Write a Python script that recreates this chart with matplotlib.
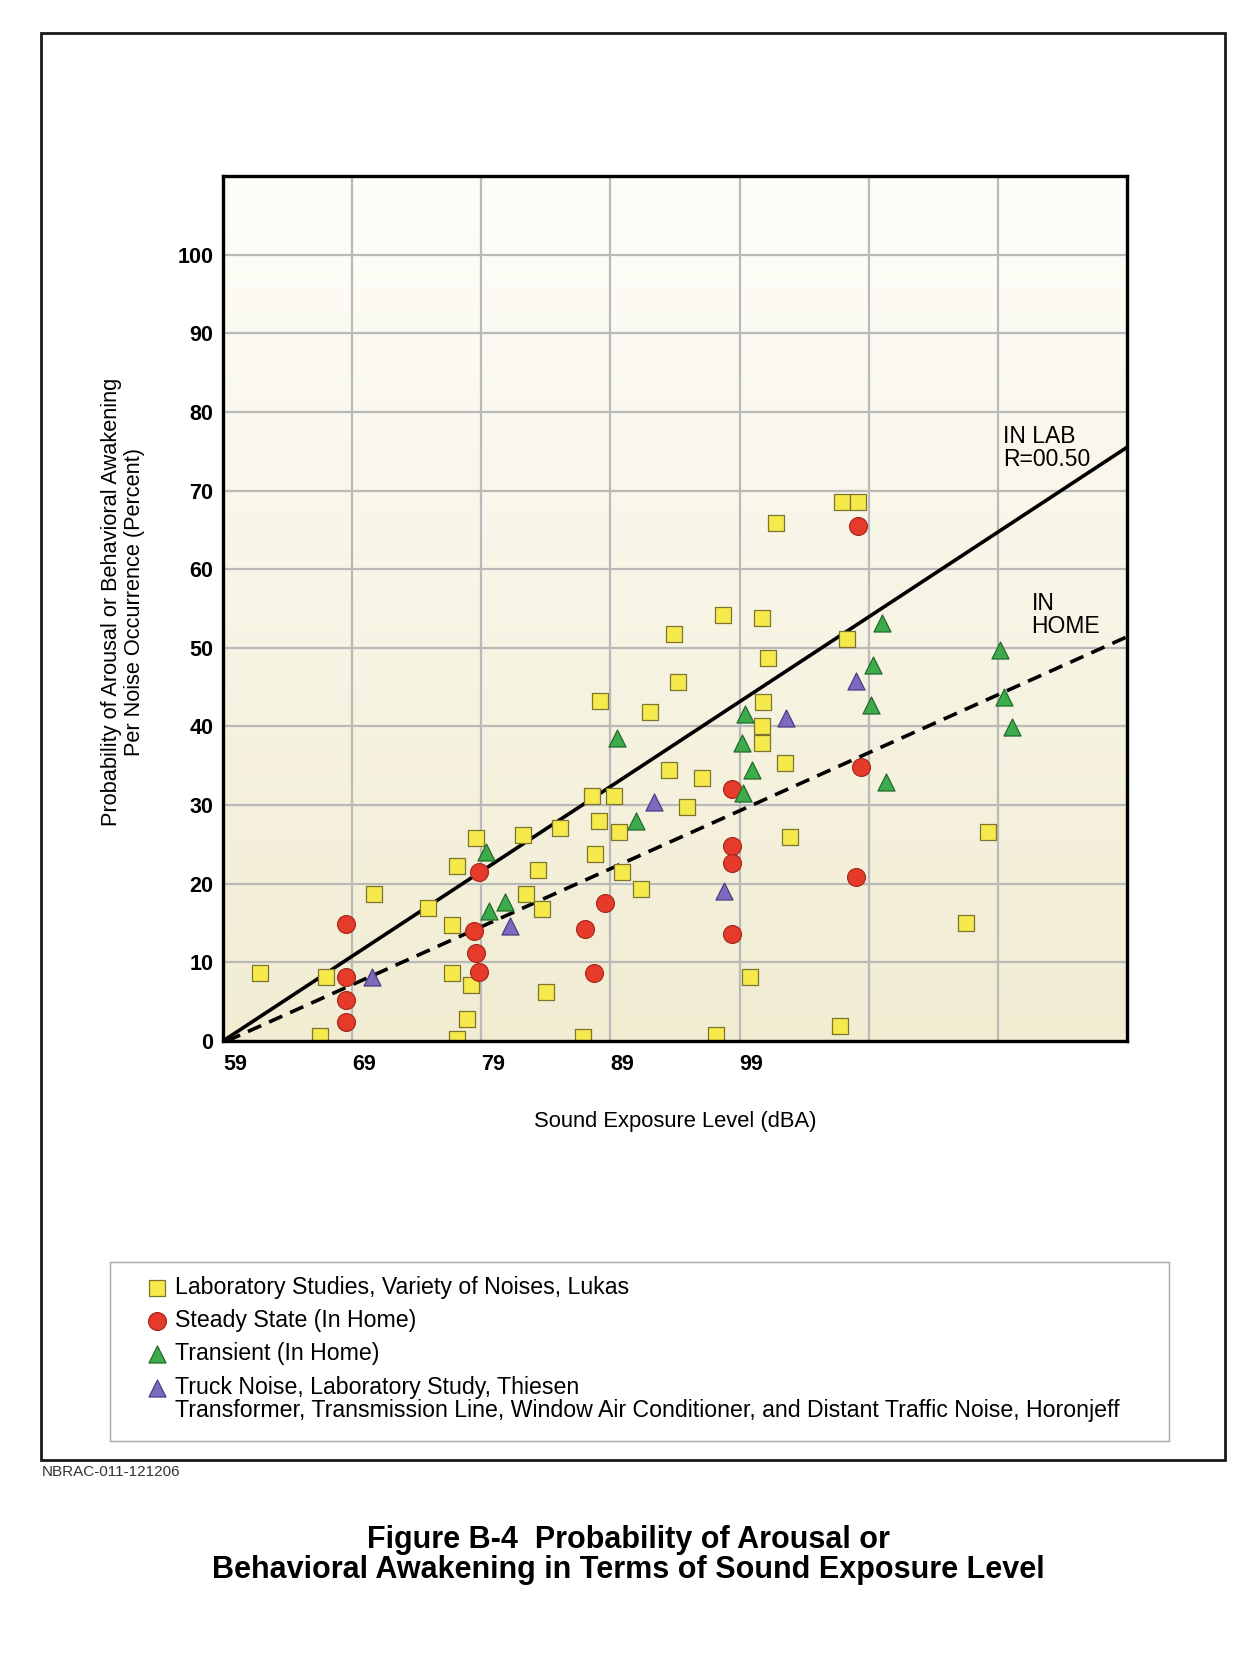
import numpy as np
import matplotlib.pyplot as plt
from matplotlib.patches import Rectangle
from matplotlib.colors import LinearSegmentedColormap

plt.rcParams['font.family'] = ['Liberation Sans', 'DejaVu Sans']

# Laboratory Studies, Variety of Noises, Lukas (yellow squares)
lab_x = [61.9, 67.0, 66.5, 70.7, 74.9, 76.7, 76.7, 77.1, 78.6, 78.2, 77.9, 77.1,
         82.2, 82.5, 83.4, 83.7, 84.0, 85.1, 86.9, 87.6, 87.8, 88.1, 88.2, 89.3,
         89.7, 89.9, 91.4, 92.1, 93.5, 93.9, 94.2, 94.9, 96.1, 97.2, 97.7, 99.8,
         100.7, 101.2, 100.8, 100.7, 100.7, 101.8, 102.5, 102.9, 106.8, 106.9,
         108.2, 107.3, 116.5, 118.2]
lab_y = [8.6, 8.2, 0.6, 18.7, 16.9, 14.7, 8.7, 22.3, 25.8, 7.1, 2.8, 0.3,
         26.2, 18.7, 21.7, 16.8, 6.2, 27.1, 0.5, 31.2, 23.8, 28.0, 43.3, 31.2,
         26.6, 21.5, 19.3, 41.8, 34.4, 51.7, 45.6, 29.7, 33.5, 0.8, 54.2, 8.2,
         53.8, 48.7, 43.1, 40.0, 37.9, 65.9, 35.3, 25.9, 1.9, 68.6,
         68.6, 51.1, 15.0, 26.6]

# Steady State (In Home) (red circles)
steady_x = [68.5, 68.5, 68.5, 68.5, 78.8, 78.4, 78.6, 78.8, 87.0, 87.7, 88.6,
            98.4, 98.4, 98.4, 98.4, 108.2, 108.4, 108.0]
steady_y = [14.9, 8.2, 5.2, 2.4, 21.5, 14.0, 11.2, 8.8, 14.2, 8.7, 17.5,
            32.0, 24.8, 22.6, 13.6, 65.5, 34.9, 20.8]

# Transient (In Home) (green triangles)
trans_x = [79.4, 79.6, 80.8, 89.5, 91.0, 99.4, 99.2, 100.0, 99.3, 110.0, 109.3,
           109.2, 110.3, 119.2, 119.5, 120.1]
trans_y = [24.0, 16.5, 17.7, 38.5, 28.0, 41.6, 37.9, 34.5, 31.6, 53.1, 47.8,
           42.7, 33.0, 49.7, 43.7, 39.9]

# Truck noise / Horonjeff (purple triangles)
truck_x = [70.5, 81.2, 92.4, 97.8, 102.6, 108.0]
truck_y = [8.1, 14.6, 30.4, 19.1, 41.1, 45.8]

# regression lines
inlab_x = [59, 129]
inlab_y = [0, 75.5]
inhome_x = [59.3, 129]
inhome_y = [0, 51.4]

xticks = [59, 69, 79, 89, 99, 109, 119]
xticklabels = ['59', '69', '79', '89', '99', '', '']
yticks = list(range(0, 101, 10))

W, H = 1247, 1662
fig = plt.figure(figsize=(W / 100, H / 100), dpi=100)
fig.patch.set_facecolor('white')

ax = fig.add_axes([223 / W, 1 - 1041 / H, (1127 - 223) / W, (1041 - 176) / H])
ax.set_xlim(59, 129)
ax.set_ylim(0, 110)

# cream gradient background
cmap = LinearSegmentedColormap.from_list('cream', ['#f1ecd2', '#fefdf9'])
grad = np.linspace(0, 1, 256).reshape(-1, 1)
ax.imshow(grad, extent=[59, 129, 0, 110], origin='lower', aspect='auto',
          cmap=cmap, zorder=0)

ax.set_xticks(xticks)
ax.set_xticklabels(xticklabels)
ax.set_yticks(yticks)
ax.grid(True, color='#b9b9b9', linewidth=1.6, zorder=1)
ax.set_axisbelow(True)
ax.tick_params(length=0, labelsize=15.5)
ax.tick_params(axis='x', pad=9)
ax.tick_params(axis='y', pad=7)
for lbl in ax.get_xticklabels() + ax.get_yticklabels():
    lbl.set_fontweight('bold')
for lbl in ax.get_xticklabels():
    lbl.set_ha('left')
for sp in ax.spines.values():
    sp.set_linewidth(2.4)
    sp.set_zorder(5)

ax.plot(inlab_x, inlab_y, color='black', linewidth=2.6, zorder=2,
        solid_capstyle='butt')
ax.plot(inhome_x, inhome_y, color='black', linewidth=2.6, zorder=2,
        dashes=(4, 2.4))

sq = ax.scatter(lab_x, lab_y, marker='s', s=135, facecolor='#f5e94c',
                edgecolor='#7d7430', linewidth=0.9, zorder=3)
ci = ax.scatter(steady_x, steady_y, marker='o', s=165, facecolor='#e63b2a',
                edgecolor='#a8291d', linewidth=0.9, zorder=3)
tr = ax.scatter(trans_x, trans_y, marker='^', s=150, facecolor='#3dab4b',
                edgecolor='#226b2c', linewidth=0.9, zorder=3)
pu = ax.scatter(truck_x, truck_y, marker='^', s=150, facecolor='#7b6abd',
                edgecolor='#4a3f85', linewidth=0.9, zorder=3)

ax.text(119.4, 75.4, 'IN LAB\nR=00.50', fontsize=16.5, va='center',
        ha='left', linespacing=1.0, zorder=4)
ax.text(121.6, 54.2, 'IN\nHOME', fontsize=16.5, va='center',
        ha='left', linespacing=1.0, zorder=4)

fig.text(123 / W, 1 - 602 / H,
         'Probability of Arousal or Behavioral Awakening\nPer Noise Occurrence (Percent)',
         rotation=90, ha='center', va='center', multialignment='center',
         fontsize=15.7, linespacing=1.12)
fig.text(675 / W, 1 - 1121 / H, 'Sound Exposure Level (dBA)',
         ha='center', va='center', fontsize=15.8)

# outer frame
fig.patches.append(Rectangle((41 / W, 1 - 1460 / H), (1225 - 41) / W,
                             (1460 - 33) / H, transform=fig.transFigure,
                             fill=False, edgecolor='#1a1a1a', linewidth=2.0))
# legend frame
fig.patches.append(Rectangle((110 / W, 1 - 1441 / H), (1169 - 110) / W,
                             (1441 - 1262) / H, transform=fig.transFigure,
                             fill=False, edgecolor='#a8a8a8', linewidth=1.0))

fig.legend([sq, ci, tr, pu],
           ['Laboratory Studies, Variety of Noises, Lukas',
            'Steady State (In Home)',
            'Transient (In Home)',
            'Truck Noise, Laboratory Study, Thiesen'],
           loc='upper left', bbox_to_anchor=(145.5 / W, 1 - 1276 / H),
           frameon=False, fontsize=16.7, borderpad=0, borderaxespad=0,
           handlelength=1.0, handletextpad=0.28, labelspacing=0.44,
           scatterpoints=1)
fig.text(175 / W, 1 - 1410 / H,
         'Transformer, Transmission Line, Window Air Conditioner, and Distant Traffic Noise, Horonjeff',
         ha='left', va='center', fontsize=16.7)

fig.text(42 / W, 1 - 1472 / H, 'NBRAC-011-121206', ha='left', va='center',
         fontsize=11, color='#333333')

fig.text(628 / W, 1 - 1555 / H,
         'Figure B-4  Probability of Arousal or\nBehavioral Awakening in Terms of Sound Exposure Level',
         ha='center', va='center', fontsize=22, fontweight='bold',
         linespacing=0.97)

fig.savefig('out.png', dpi=100, facecolor='white')
